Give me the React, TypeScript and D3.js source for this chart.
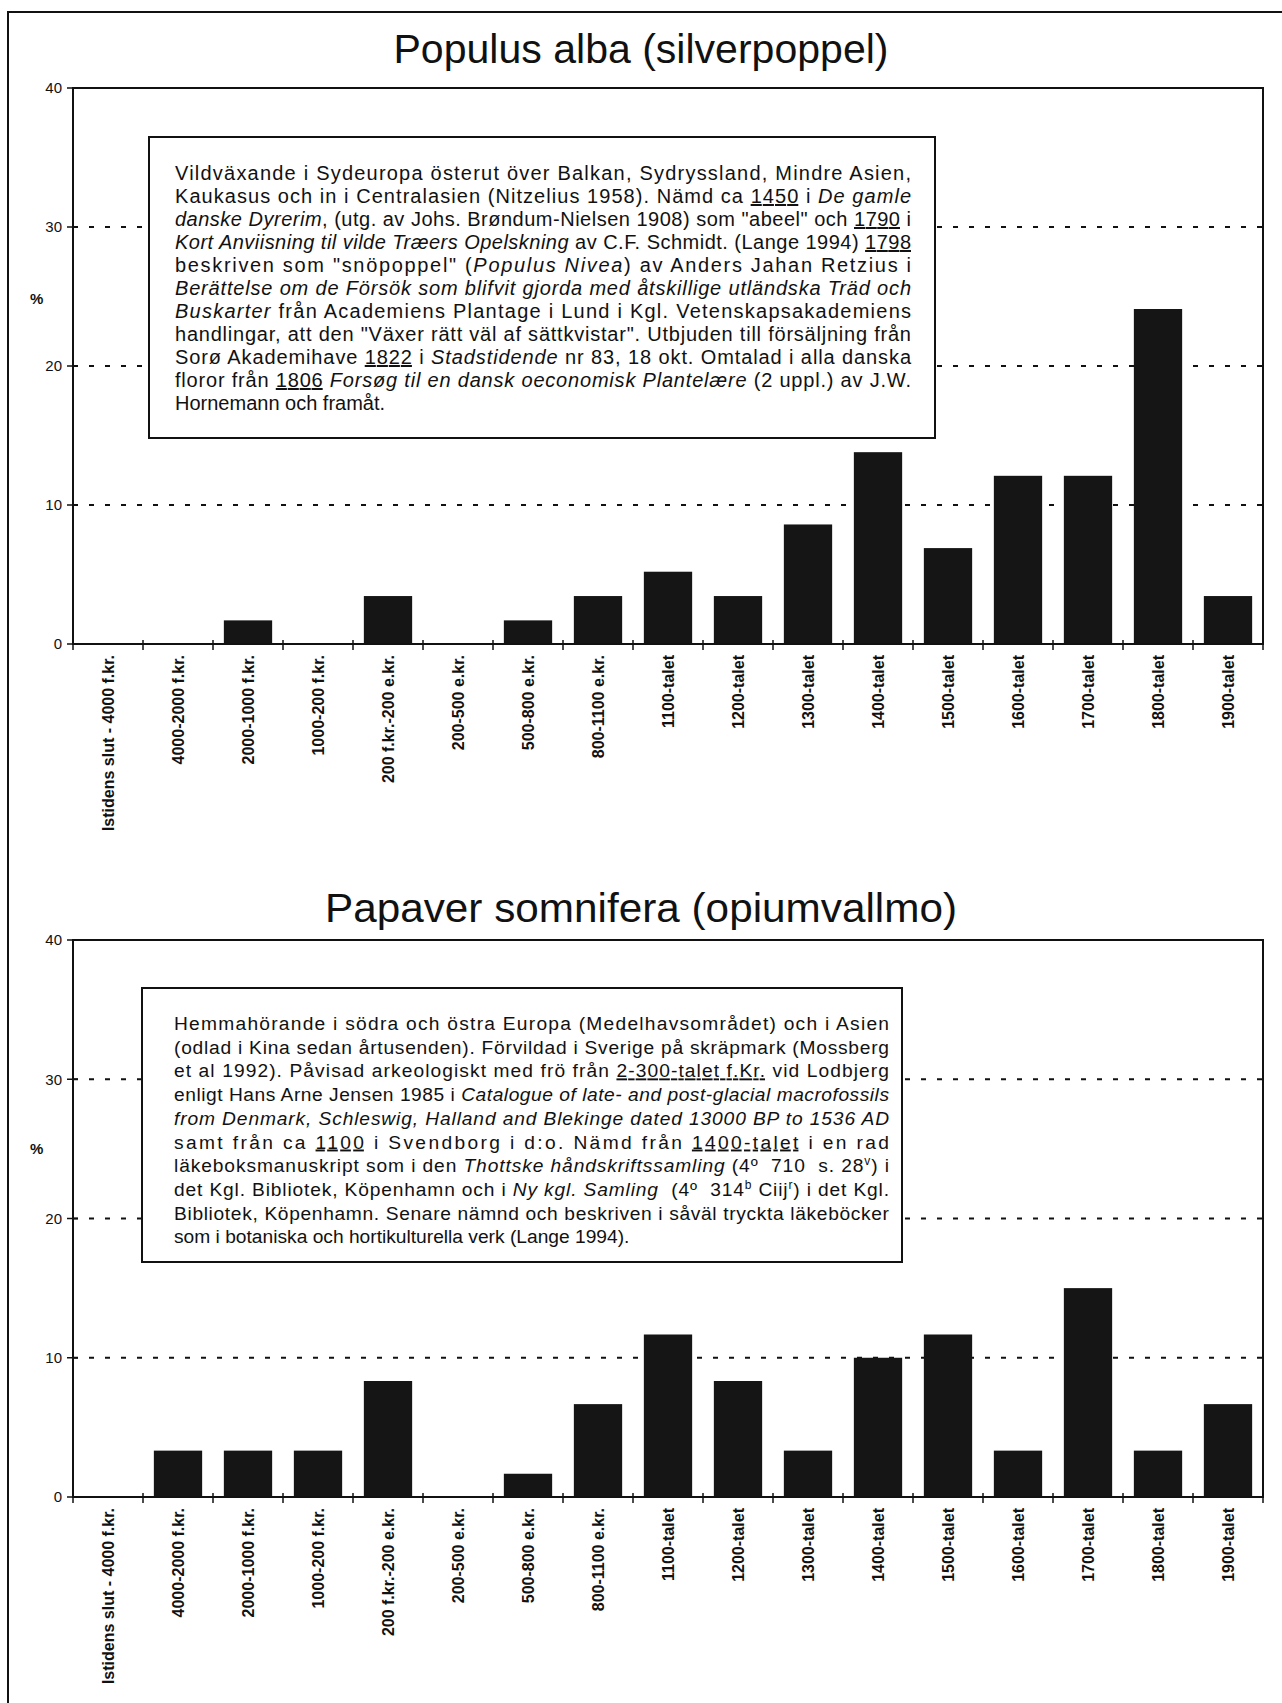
import { useEffect, useRef } from 'react';
import * as d3 from 'd3';

// Time periods along the x axis (same for both charts)
const categories = [
  'Istidens slut - 4000 f.kr.',
  '4000-2000 f.kr.',
  '2000-1000 f.kr.',
  '1000-200 f.kr.',
  '200 f.kr.-200 e.kr.',
  '200-500 e.kr.',
  '500-800 e.kr.',
  '800-1100 e.kr.',
  '1100-talet',
  '1200-talet',
  '1300-talet',
  '1400-talet',
  '1500-talet',
  '1600-talet',
  '1700-talet',
  '1800-talet',
  '1900-talet',
];

// % per period
const populusValues = [0, 0, 1.7, 0, 3.45, 0, 1.7, 3.45, 5.2, 3.45, 8.6, 13.8, 6.9, 12.1, 12.1, 24.1, 3.45];
const papaverValues = [0, 3.33, 3.33, 3.33, 8.33, 0, 1.67, 6.67, 11.67, 8.33, 3.33, 10.0, 11.67, 3.33, 15.0, 3.33, 6.67];

const yTicks = [0, 10, 20, 30, 40];
const gridTicks = [10, 20, 30];

const populusTitle = 'Populus alba (silverpoppel)';
const papaverTitle = 'Papaver somnifera (opiumvallmo)';

// *italic*  _underline_  ^superscript^  — last line of each note is not justified
const populusNote = [
  'Vildväxande i Sydeuropa österut över Balkan, Sydryssland, Mindre Asien,',
  'Kaukasus och in i Centralasien (Nitzelius 1958). Nämd ca _1450_ i *De gamle*',
  '*danske Dyrerim*, (utg. av Johs. Brøndum-Nielsen 1908) som "abeel" och _1790_ i',
  '*Kort Anviisning til vilde Træers Opelskning* av C.F. Schmidt. (Lange 1994) _1798_',
  'beskriven som "snöpoppel" (*Populus Nivea*) av Anders Jahan Retzius i',
  '*Berättelse om de Försök som blifvit gjorda med åtskillige utländska Träd och*',
  '*Buskarter* från Academiens Plantage i Lund i Kgl. Vetenskapsakademiens',
  'handlingar, att den "Växer rätt väl af sättkvistar". Utbjuden till försäljning från',
  'Sorø Akademihave _1822_ i *Stadstidende* nr 83, 18 okt. Omtalad i alla danska',
  'floror från _1806_ *Forsøg til en dansk oeconomisk Plantelære* (2 uppl.) av J.W.',
  'Hornemann och framåt.',
];

const papaverNote = [
  'Hemmahörande i södra och östra Europa (Medelhavsområdet) och i Asien',
  '(odlad i Kina sedan årtusenden). Förvildad i Sverige på skräpmark (Mossberg',
  'et al 1992). Påvisad arkeologiskt med frö från _2-300-talet f.Kr._ vid Lodbjerg',
  'enligt Hans Arne Jensen 1985 i *Catalogue of late- and post-glacial macrofossils*',
  '*from Denmark, Schleswig, Halland and Blekinge dated 13000 BP to 1536 AD*',
  'samt från ca _1100_ i Svendborg i d:o. Nämd från _1400-talet_ i en rad',
  'läkeboksmanuskript som i den *Thottske håndskriftssamling* (4º  710  s. 28^v^) i',
  'det Kgl. Bibliotek, Köpenhamn och i *Ny kgl. Samling*  (4º  314^b^ Ciij^r^) i det Kgl.',
  'Bibliotek, Köpenhamn. Senare nämnd och beskriven i såväl tryckta läkeböcker',
  'som i botaniska och hortikulturella verk (Lange 1994).',
];

const FONT = '"Liberation Sans", Arial, Helvetica, sans-serif';

type Seg = { t: string; i?: boolean; u?: boolean; sup?: boolean };

function parseLine(s: string): Seg[] {
  return s
    .split(/(\*[^*]+\*|_[^_]+_|\^[^^]+\^)/)
    .filter(p => p.length)
    .map(p => {
      if (p.startsWith('*')) return { t: p.slice(1, -1), i: true };
      if (p.startsWith('_')) return { t: p.slice(1, -1), u: true };
      if (p.startsWith('^')) return { t: p.slice(1, -1), sup: true };
      return { t: p };
    });
}

interface ChartLayout {
  values: number[];
  title: string;
  titleY: number;
  titleWidth: number;
  top: number;
  bottom: number;
  pctY: number;
  note: string[];
  box: { x: number; y: number; w: number; h: number };
  textLeft: number;
  textRight: number;
  firstBaseline: number;
  lineGap: number;
  fontSize: number;
}

const plotLeft = 73;
const plotRight = 1263;

const charts: ChartLayout[] = [
  {
    values: populusValues,
    title: populusTitle,
    titleY: 63,
    titleWidth: 495,
    top: 88,
    bottom: 644,
    pctY: 304,
    note: populusNote,
    box: { x: 149, y: 137, w: 786, h: 301 },
    textLeft: 175,
    textRight: 911,
    firstBaseline: 180,
    lineGap: 23,
    fontSize: 20,
  },
  {
    values: papaverValues,
    title: papaverTitle,
    titleY: 922,
    titleWidth: 632,
    top: 940,
    bottom: 1497,
    pctY: 1154,
    note: papaverNote,
    box: { x: 142, y: 988, w: 760, h: 274 },
    textLeft: 174,
    textRight: 889,
    firstBaseline: 1030,
    lineGap: 23.7,
    fontSize: 19.2,
  },
];

export default function App() {
  const svgRef = useRef<SVGSVGElement>(null);

  useEffect(() => {
    if (!svgRef.current) return;
    const svg = d3.select(svgRef.current);
    svg.selectAll('*').remove();

    svg.append('rect').attr('width', 1282).attr('height', 1703).attr('fill', '#fff');

    // page frame (top + left edges only, as scanned)
    svg.append('path')
      .attr('d', 'M8,1703V12H1282')
      .attr('fill', 'none')
      .attr('stroke', '#111')
      .attr('stroke-width', 2);

    charts.forEach(c => {
      const g = svg.append('g');

      const xSlot = d3.scaleBand<string>().domain(categories).range([plotLeft, plotRight]);
      const xBar = d3.scaleBand<string>()
        .domain(categories)
        .range([plotLeft, plotRight])
        .paddingInner(0.31)
        .paddingOuter(0.155);
      const y = d3.scaleLinear().domain([0, 40]).range([c.bottom, c.top]);

      // title
      g.append('text')
        .attr('x', 641)
        .attr('y', c.titleY)
        .attr('text-anchor', 'middle')
        .attr('textLength', c.titleWidth)
        .attr('lengthAdjust', 'spacingAndGlyphs')
        .style('font-family', FONT)
        .style('font-size', '41px')
        .style('fill', '#111')
        .text(c.title);

      // dashed gridlines
      g.selectAll('.grid')
        .data(gridTicks)
        .join('line')
        .attr('x1', plotLeft)
        .attr('x2', plotRight)
        .attr('y1', d => y(d))
        .attr('y2', d => y(d))
        .attr('stroke', '#111')
        .attr('stroke-width', 2)
        .attr('stroke-dasharray', '5 11');

      // bars
      g.selectAll('.bar')
        .data(c.values)
        .join('rect')
        .attr('x', (d, i) => xBar(categories[i]) as number)
        .attr('y', d => y(d))
        .attr('width', xBar.bandwidth())
        .attr('height', d => y(0) - y(d))
        .attr('fill', '#151515');

      // plot frame
      g.append('rect')
        .attr('x', plotLeft)
        .attr('y', c.top)
        .attr('width', plotRight - plotLeft)
        .attr('height', c.bottom - c.top)
        .attr('fill', 'none')
        .attr('stroke', '#111')
        .attr('stroke-width', 2);

      // y ticks + labels
      g.selectAll('.ytick')
        .data(yTicks)
        .join('line')
        .attr('x1', plotLeft - 6)
        .attr('x2', plotLeft + 5)
        .attr('y1', d => y(d))
        .attr('y2', d => y(d))
        .attr('stroke', '#111')
        .attr('stroke-width', 1.5);

      g.selectAll('.ylabel')
        .data(yTicks)
        .join('text')
        .attr('x', plotLeft - 11)
        .attr('y', d => y(d))
        .attr('dy', '0.35em')
        .attr('text-anchor', 'end')
        .style('font-family', FONT)
        .style('font-size', '15px')
        .style('fill', '#111')
        .text(d => d);

      g.append('text')
        .attr('x', 30)
        .attr('y', c.pctY)
        .style('font-family', FONT)
        .style('font-size', '15px')
        .style('font-weight', 'bold')
        .style('fill', '#111')
        .text('%');

      // x ticks at period boundaries
      const bounds = categories.map(d => xSlot(d) as number).concat(plotRight);
      g.selectAll('.xtick')
        .data(bounds)
        .join('line')
        .attr('x1', d => d)
        .attr('x2', d => d)
        .attr('y1', c.bottom - 4)
        .attr('y2', c.bottom + 6)
        .attr('stroke', '#111')
        .attr('stroke-width', 1.5);

      // rotated category labels
      g.selectAll('.xlabel')
        .data(categories)
        .join('text')
        .attr('transform', d => `translate(${(xSlot(d) as number) + xSlot.bandwidth() / 2},${c.bottom + 11}) rotate(-90)`)
        .attr('text-anchor', 'end')
        .attr('dy', '0.35em')
        .style('font-family', FONT)
        .style('font-size', '16px')
        .style('font-weight', 'bold')
        .style('fill', '#111')
        .text(d => d);

      // annotation box
      g.append('rect')
        .attr('x', c.box.x)
        .attr('y', c.box.y)
        .attr('width', c.box.w)
        .attr('height', c.box.h)
        .attr('fill', '#fff')
        .attr('stroke', '#111')
        .attr('stroke-width', 2);

      c.note.forEach((line, li) => {
        const last = li === c.note.length - 1;
        const t = g.append('text')
          .attr('x', c.textLeft)
          .attr('y', c.firstBaseline + li * c.lineGap)
          .attr('xml:space', 'preserve')
          .style('font-family', FONT)
          .style('font-size', `${c.fontSize}px`)
          .style('fill', '#111');
        if (!last) {
          t.attr('textLength', c.textRight - c.textLeft).attr('lengthAdjust', 'spacing');
        }
        parseLine(line).forEach(seg => {
          const ts = t.append('tspan').text(seg.t);
          if (seg.i) ts.style('font-style', 'italic');
          if (seg.u) ts.style('text-decoration', 'underline');
          if (seg.sup) ts.attr('baseline-shift', 'super').style('font-size', '12px');
        });
      });
    });
  }, []);

  return (
    <svg
      ref={svgRef}
      width={1282}
      height={1703}
      style={{ position: 'absolute', left: 0, top: 0, display: 'block' }}
    />
  );
}
